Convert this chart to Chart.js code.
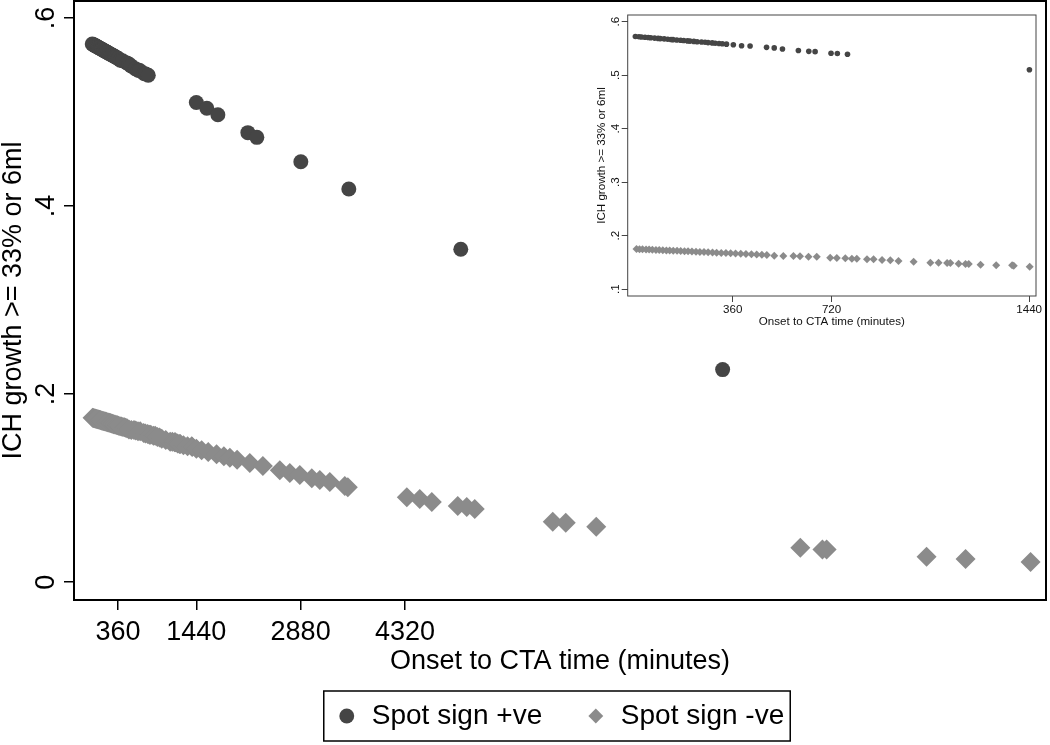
<!DOCTYPE html>
<html>
<head>
<meta charset="utf-8">
<title>ICH growth by onset to CTA time</title>
<script src="https://cdn.jsdelivr.net/npm/chart.js@4.4.0/dist/chart.umd.min.js"></script>
<style>
  html, body { margin: 0; padding: 0; background: #fff; }
  #wrap { position: relative; width: 1050px; height: 745px; }
  #mainChart { position: absolute; left: 0; top: 0; }
  #insetChart { position: absolute; left: 583px; top: 3px; background: #fff; }
</style>
</head>
<body>
<div id="wrap">
  <canvas id="mainChart" width="1050" height="745"></canvas>
  <canvas id="insetChart" width="461" height="340"></canvas>
</div>
<script>
// Spot sign +ve: onset to CTA time (minutes) and predicted growth probability
const posTime = [5, 18, 27, 40, 52, 61, 75, 88, 96, 110, 123, 135, 142, 156, 170, 181, 195, 204, 218, 230,
  246, 259, 270, 285, 296, 310, 322, 337, 362, 392, 423, 483, 511, 541, 599, 637, 660, 718, 741, 778,
  1441, 1586, 1738, 2152, 2276, 2883, 3545, 5090, 8703];
const posProb = [.5723, .5717, .5713, .5708, .5703, .5699, .5693, .5687, .5684, .5678, .5672, .5667, .5664, .5658, .5652, .5647, .5641, .5637, .5631, .5626,
  .5619, .5614, .5609, .5603, .5598, .5592, .5587, .5580, .557, .555, .5545, .552, .551, .549, .546, .5445, .544, .541, .5405, .539,
  .510, .504, .497, .478, .473, .447, .418, .354, .226];

// Spot sign -ve
const negTime = [9, 20, 31, 44, 55, 67, 80, 92, 105, 118, 130, 143, 157, 170, 184, 197, 211, 226, 240, 255,
  270, 286, 301, 318, 335, 352, 370, 389, 408, 428, 447, 466, 484,
  511, 544, 581, 605, 636, 666, 715, 739, 770, 794, 812, 849, 873, 904, 934, 964, 1019, 1080, 1110, 1141,
  1153, 1183, 1208, 1220, 1263, 1320, 1378, 1384, 1442,
  1514, 1605, 1720, 1821, 1904, 2004,
  2179, 2359, 2593, 2731, 2869, 3034, 3145, 3283, 3490, 3531,
  4345, 4524, 4690, 5048, 5172, 5283,
  6359, 6538, 6959, 9775, 10080, 10138, 11517, 12055, 12952];
const negProb = [.1749, .1746, .1744, .1741, .1738, .1735, .1732, .1729, .1726, .1723, .1720, .1717, .1714, .1711, .1708, .1705, .1701, .1698, .1694, .1691,
  .1687, .1684, .1680, .1676, .1672, .1668, .1664, .1659, .1655, .1650, .1646, .1641, .1637,
  .1624, .1618, .1618, .1612, .1605, .1605, .1586, .1580, .1575, .1567, .1567, .1556, .1556, .1543, .1537, .1524, .1511, .1493, .1493, .1487,
  .1487, .1474, .1468, .1468, .1455, .1444, .1444, .1436, .1418,
  .1403, .1384, .1360, .1339, .1322, .1301,
  .1266, .1234, .1191, .1160, .1138, .1106, .1085, .1064, .1021, .1010,
  .0904, .0883, .0851, .0809, .0798, .0777,
  .0641, .0631, .0588, .0365, .0348, .0348, .0269, .0245, .0213];

const mainXTicks = [360, 1440, 2880, 4320];
const mainYTicks = [0, 0.2, 0.4, 0.6];
const mainYLabels = ['0', '.2', '.4', '.6'];
const insetXTicks = [360, 720, 1440];
const insetYTicks = [0.1, 0.2, 0.3, 0.4, 0.5, 0.6];
const insetYLabels = ['.1', '.2', '.3', '.4', '.5', '.6'];
const insetMaxTime = 1465;

const FONT = 'Liberation Sans, Arial, Helvetica, sans-serif';
const POS_COLOR = '#454545';
const NEG_COLOR = '#8b8b8b';

function toPoints(xs, ys, maxX) {
  const pts = [];
  for (let i = 0; i < xs.length; i++) {
    if (maxX === undefined || xs[i] <= maxX) pts.push({x: xs[i], y: ys[i]});
  }
  return pts;
}

// fixed axis size, no extra room for overhanging labels
function fixSize(prop, size) {
  return s => {
    s[prop] = size;
    s.paddingTop = 0; s.paddingBottom = 0;
    s.paddingLeft = 0; s.paddingRight = 0;
  };
}

// box round the plot region
const framePlugin = {
  id: 'frame',
  afterDraw(chart, args, opts) {
    const {ctx, chartArea: a} = chart;
    ctx.save();
    ctx.strokeStyle = opts.color;
    ctx.lineWidth = opts.width;
    ctx.strokeRect(a.left, a.top, a.right - a.left, a.bottom - a.top);
    ctx.restore();
  }
};

// border round the legend items
const legendBoxPlugin = {
  id: 'legendBox',
  afterDraw(chart) {
    const boxes = chart.legend && chart.legend.legendHitBoxes;
    if (!boxes || !boxes.length) return;
    const first = boxes[0], last = boxes[boxes.length - 1];
    const cy = first.top + first.height / 2;
    const left = first.left - 12;
    const right = last.left + last.width + 6;
    const ctx = chart.ctx;
    ctx.save();
    ctx.strokeStyle = '#000';
    ctx.lineWidth = 1.5;
    ctx.strokeRect(left, cy - 25, right - left, 50);
    ctx.restore();
  }
};

const mainCtx = document.getElementById('mainChart').getContext('2d');
new Chart(mainCtx, {
  type: 'scatter',
  data: {
    datasets: [{
      label: 'Spot sign +ve',
      data: toPoints(posTime, posProb),
      pointStyle: 'circle',
      pointRadius: 7.5,
      pointHoverRadius: 7.5,
      backgroundColor: POS_COLOR,
      borderWidth: 0
    }, {
      label: 'Spot sign -ve',
      data: toPoints(negTime, negProb),
      pointStyle: 'rectRot',
      pointRadius: 10,
      pointHoverRadius: 10,
      backgroundColor: NEG_COLOR,
      borderWidth: 0
    }]
  },
  options: {
    responsive: false,
    devicePixelRatio: 1,
    animation: false,
    events: [],
    layout: { autoPadding: false, padding: { top: 1, right: 4, bottom: 5, left: 0 } },
    scales: {
      x: {
        type: 'linear',
        min: -247,
        max: 13165,
        afterBuildTicks: s => { s.ticks = mainXTicks.map(v => ({value: v})); },
        afterFit: fixSize('height', 59.4),
        grid: { drawOnChartArea: false, drawTicks: true, tickLength: 10, color: '#000', lineWidth: 1.5 },
        border: { display: false },
        ticks: {
          color: '#000', font: { family: FONT, size: 27 },
          maxRotation: 0, autoSkip: false, padding: 6,
          callback: (v, i) => String(mainXTicks[i])
        },
        title: {
          display: true, text: 'Onset to CTA time (minutes)', color: '#000',
          font: { family: FONT, size: 27, lineHeight: 1 },
          padding: { top: 0, bottom: -16.1 }
        }
      },
      y: {
        type: 'linear',
        min: -0.019,
        max: 0.618,
        afterBuildTicks: s => { s.ticks = mainYTicks.map(v => ({value: v})); },
        afterFit: fixSize('width', 74),
        grid: { drawOnChartArea: false, drawTicks: true, tickLength: 10, color: '#000', lineWidth: 1.5 },
        border: { display: false },
        ticks: {
          color: '#000', font: { family: FONT, size: 27 },
          minRotation: 90, maxRotation: 90, crossAlign: 'center', padding: 6,
          callback: (v, i) => mainYLabels[i]
        },
        title: {
          display: true, text: 'ICH growth >= 33% or 6ml', color: '#000',
          font: { family: FONT, size: 27, lineHeight: 1 },
          padding: { top: 0, bottom: 0 }
        }
      }
    },
    plugins: {
      legend: {
        position: 'bottom',
        fullSize: false,
        labels: {
          usePointStyle: true, boxWidth: 22, boxHeight: 10.5, padding: 42.6,
          color: '#000', font: { family: FONT, size: 28 }
        }
      },
      tooltip: { enabled: false },
      frame: { color: '#000', width: 2 }
    }
  },
  plugins: [framePlugin, legendBoxPlugin]
});

const insetCtx = document.getElementById('insetChart').getContext('2d');
new Chart(insetCtx, {
  type: 'scatter',
  data: {
    datasets: [{
      label: 'Spot sign +ve',
      data: toPoints(posTime, posProb, insetMaxTime),
      pointStyle: 'circle',
      pointRadius: 2.8,
      pointHoverRadius: 2.8,
      backgroundColor: POS_COLOR,
      borderWidth: 0
    }, {
      label: 'Spot sign -ve',
      data: toPoints(negTime, negProb, insetMaxTime),
      pointStyle: 'rectRot',
      pointRadius: 4,
      pointHoverRadius: 4,
      backgroundColor: NEG_COLOR,
      borderWidth: 0
    }]
  },
  options: {
    responsive: false,
    devicePixelRatio: 1,
    animation: false,
    events: [],
    layout: { autoPadding: false, padding: { top: 12, right: 8, bottom: 0, left: 0 } },
    scales: {
      x: {
        type: 'linear',
        min: -23,
        max: 1465,
        afterBuildTicks: s => { s.ticks = insetXTicks.map(v => ({value: v})); },
        afterFit: fixSize('height', 47),
        grid: { drawOnChartArea: false, drawTicks: true, tickLength: 6, color: '#444', lineWidth: 1 },
        border: { display: false },
        ticks: {
          color: '#111', font: { family: FONT, size: 11.6 },
          maxRotation: 0, autoSkip: false, padding: 1,
          callback: (v, i) => String(insetXTicks[i])
        },
        title: {
          display: true, text: 'Onset to CTA time (minutes)', color: '#111',
          font: { family: FONT, size: 11.6, lineHeight: 1 },
          padding: { top: 0, bottom: 15.5 }
        }
      },
      y: {
        type: 'linear',
        min: 0.087,
        max: 0.6125,
        afterBuildTicks: s => { s.ticks = insetYTicks.map(v => ({value: v})); },
        afterFit: fixSize('width', 44.7),
        grid: { drawOnChartArea: false, drawTicks: true, tickLength: 6, color: '#444', lineWidth: 1 },
        border: { display: false },
        ticks: {
          color: '#111', font: { family: FONT, size: 11.6 },
          minRotation: 90, maxRotation: 90, crossAlign: 'center', padding: 1,
          callback: (v, i) => insetYLabels[i]
        },
        title: {
          display: true, text: 'ICH growth >= 33% or 6ml', color: '#111',
          font: { family: FONT, size: 11.6, lineHeight: 1 },
          padding: { top: 13, bottom: 0 }
        }
      }
    },
    plugins: {
      legend: { display: false },
      tooltip: { enabled: false },
      frame: { color: '#444', width: 1 }
    }
  },
  plugins: [framePlugin]
});
</script>
</body>
</html>
